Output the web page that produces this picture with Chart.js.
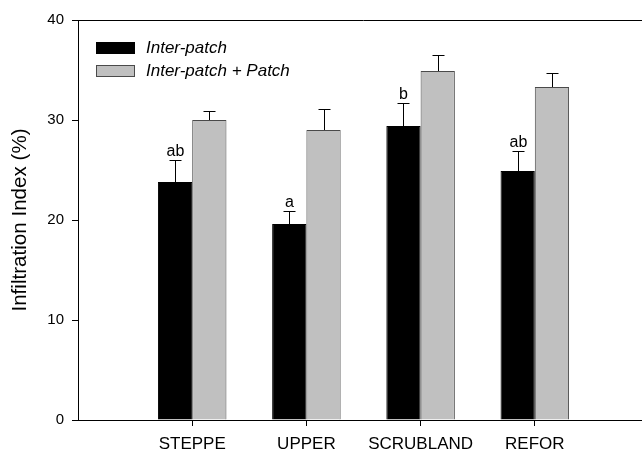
<!DOCTYPE html>
<html><head><meta charset="utf-8">
<script src="https://cdn.jsdelivr.net/npm/chart.js@4/dist/chart.umd.min.js"></script>
<style>html,body{margin:0;padding:0;overflow:hidden;background:#fff}#wrap{width:660px;height:450px}</style>
</head><body><div id="wrap"><canvas id="c" width="660" height="450"></canvas></div>
<script>
const categories = ['STEPPE', 'UPPER', 'SCRUBLAND', 'REFOR'];
const interPatch = [23.8, 19.6, 29.4, 24.9];
const interPatchErr = [2.2, 1.3, 2.3, 2.0];
const withPatch = [30.0, 29.0, 34.9, 33.3];
const withPatchErr = [0.9, 2.1, 1.6, 1.4];
const letters = ['ab', 'a', 'b', 'ab'];
const yTicks = [0, 10, 20, 30, 40];
const seriesNames = ['Inter-patch', 'Inter-patch + Patch'];

const FONT = "'Liberation Sans', Arial, sans-serif";
const labels = [''].concat(categories, ['']);
const pad = arr => [null].concat(arr, [null]);

const errorBars = {
  id: 'errorBars',
  afterDatasetsDraw(chart) {
    const ctx = chart.ctx, ys = chart.scales.y;
    chart.data.datasets.forEach((ds, di) => {
      const meta = chart.getDatasetMeta(di);
      meta.data.forEach((bar, i) => {
        const v = ds.data[i], e = ds.errors[i];
        if (v == null || e == null) return;
        const top = Math.round(ys.getPixelForValue(v + e)) + 0.5;
        const x = Math.round(bar.x) + 0.5;
        ctx.save();
        ctx.strokeStyle = '#000';
        ctx.lineWidth = 1;
        ctx.beginPath();
        ctx.moveTo(x, bar.y);
        ctx.lineTo(x, top);
        ctx.moveTo(x - 6, top);
        ctx.lineTo(x + 6, top);
        ctx.stroke();
        if (ds.letters && ds.letters[i]) {
          ctx.fillStyle = '#000';
          ctx.font = '16px ' + FONT;
          ctx.textAlign = 'center';
          ctx.textBaseline = 'alphabetic';
          ctx.fillText(ds.letters[i], x, top - 5);
        }
        ctx.restore();
      });
    });
  }
};

const frameAndLegend = {
  id: 'frameAndLegend',
  afterDraw(chart) {
    const ctx = chart.ctx, a = chart.chartArea;
    ctx.save();
    ctx.strokeStyle = '#000';
    ctx.lineWidth = 1;
    ctx.beginPath();
    const ty = Math.round(a.top) + 0.5;
    ctx.moveTo(a.left, ty);
    ctx.lineTo(a.right, ty);
    ctx.stroke();
    const bx = a.left + 18, by0 = a.top + 22;
    chart.data.datasets.forEach((ds, i) => {
      const by = by0 + i * 23;
      ctx.fillStyle = ds.backgroundColor;
      ctx.fillRect(bx, by, 39, 12);
      ctx.strokeStyle = ds.borderColor;
      ctx.strokeRect(bx + 0.5, by + 0.5, 38, 11);
      ctx.fillStyle = '#000';
      ctx.font = 'italic 17px ' + FONT;
      ctx.textAlign = 'left';
      ctx.textBaseline = 'middle';
      ctx.fillText(ds.label, bx + 50, by + 6);
    });
    ctx.restore();
  }
};

new Chart(document.getElementById('c'), {
  type: 'bar',
  data: {
    labels: labels,
    datasets: [
      { label: seriesNames[0], data: pad(interPatch), errors: pad(interPatchErr), letters: pad(letters),
        backgroundColor: '#000000', borderColor: '#000000', borderWidth: 1,
        categoryPercentage: 0.6, barPercentage: 1.0 },
      { label: seriesNames[1], data: pad(withPatch), errors: pad(withPatchErr),
        backgroundColor: '#c0c0c0', borderColor: '#4a4a4a', borderWidth: 1,
        categoryPercentage: 0.6, barPercentage: 1.0 }
    ]
  },
  options: {
    responsive: false,
    animation: false,
    layout: { padding: { top: 20, right: 11, bottom: 0, left: 0 } },
    plugins: { legend: { display: false }, tooltip: { enabled: false } },
    scales: {
      x: {
        offset: false,
        grid: { offset: false, display: true, drawOnChartArea: false, drawTicks: true, tickLength: 6,
                tickColor: c => (labels[c.index] ? '#000' : 'rgba(0,0,0,0)') },
        border: { display: true, color: '#000', width: 1 },
        ticks: { autoSkip: false, maxRotation: 0, minRotation: 0, padding: 8, color: '#000',
                 font: { family: FONT, size: 17 } },
        afterFit: s => { s.height = 30; }
      },
      y: {
        min: 0, max: 40,
        afterBuildTicks: s => { s.ticks = yTicks.map(v => ({ value: v })); },
        grid: { display: true, drawOnChartArea: false, drawTicks: true, tickLength: 6, tickColor: '#000' },
        border: { display: true, color: '#000', width: 1 },
        ticks: { padding: 8, color: '#000', font: { family: FONT, size: 15 } },
        title: { display: true, text: 'Infiltration Index (%)', color: '#000',
                 font: { family: FONT, size: 20.6 }, padding: { top: 8, bottom: 0 } },
        afterFit: s => { s.width = 78; }
      }
    }
  },
  plugins: [errorBars, frameAndLegend]
});
</script></body></html>
